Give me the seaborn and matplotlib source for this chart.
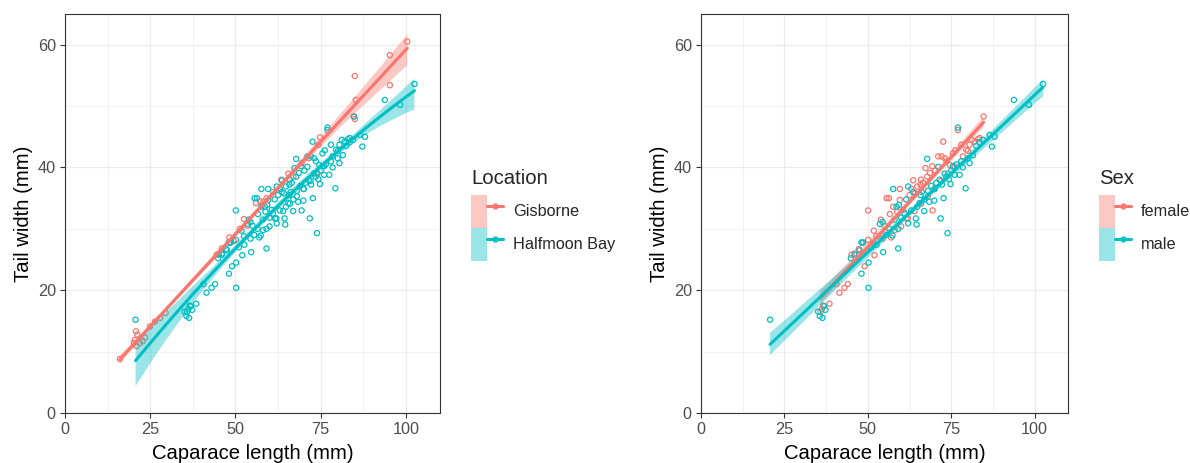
import numpy as np
import pandas as pd
import matplotlib
matplotlib.use("Agg")
import matplotlib.pyplot as plt
import seaborn as sns
from matplotlib.lines import Line2D
from matplotlib.patches import Patch
from matplotlib.legend_handler import HandlerTuple
from matplotlib.collections import PolyCollection

# ---------------- data ----------------
gis_length = [16.1, 20.2, 20.5, 20.8, 21.2, 21.0, 22.0, 22.8, 23.5, 24.9, 26.4, 27.9, 29.5,
              44.5, 46.0, 48.2, 49.5, 51.3, 52.5, 53.5, 56.0, 57.2, 58.2, 59.1, 61.0, 63.5,
              65.5, 67.0, 69.4, 71.5, 73.8, 74.3, 74.8, 84.8, 85.0, 85.3, 85.0, 95.3, 95.3, 100.4]
gis_width = [8.8, 11.4, 11.9, 13.3, 12.8, 10.9, 11.4, 11.7, 12.3, 14.1, 14.9, 15.5, 16.3,
             25.8, 26.8, 28.6, 28.0, 30.0, 31.6, 30.5, 34.2, 34.5, 34.4, 35.0, 36.0, 38.0,
             39.0, 38.5, 40.7, 41.5, 39.1, 43.7, 44.9, 48.3, 47.9, 51.0, 54.9, 58.3, 53.4, 60.5]

hb_male_length = [20.7, 35.1, 35.6, 36.4, 37.3, 36.9, 44.9, 46.0, 47.5, 48.1, 48.6, 48.1, 50.2,
                  50.2, 51.0, 52.6, 53.6, 54.4, 54.6, 55.5, 56.5, 57.6, 57.4, 58.0, 58.6, 59.3,
                  59.1, 59.1, 60.0, 61.0, 61.5, 62.1, 62.1, 63.0, 63.6, 64.4, 64.6, 64.8, 65.5,
                  65.8, 66.2, 66.9, 67.0, 67.8, 68.0, 68.4, 69.0, 69.9, 70.0, 70.5, 71.1, 71.5,
                  71.8, 72.2, 72.7, 73.0, 73.5, 73.9, 74.3, 74.8, 75.0, 75.5, 76.0, 76.5, 77.0,
                  77.5, 78.0, 78.5, 79.3, 80.0, 80.5, 81.5, 82.5, 83.5, 84.5, 86.5, 87.2, 88.0,
                  93.8, 98.3, 102.5]
hb_male_width = [15.2, 16.5, 15.8, 15.5, 16.8, 17.4, 25.2, 25.8, 26.5, 27.8, 27.8, 22.7, 24.5,
                 20.4, 27.0, 27.4, 30.8, 31.1, 26.2, 29.0, 30.0, 36.5, 28.9, 31.5, 33.6, 33.9,
                 26.8, 30.0, 31.8, 32.5, 34.8, 36.9, 30.9, 33.0, 36.0, 31.7, 30.7, 33.6, 34.2,
                 35.5, 36.0, 32.9, 34.8, 41.4, 36.2, 34.4, 37.0, 34.6, 36.5, 37.5, 40.1, 38.0,
                 31.7, 37.2, 35.0, 39.0, 38.5, 29.3, 38.1, 37.3, 39.5, 40.2, 38.8, 40.5, 46.5,
                 38.8, 41.0, 40.0, 36.6, 41.5, 40.7, 42.0, 43.5, 44.1, 44.5, 45.3, 43.4, 45.0,
                 51.0, 50.2, 53.6]

hb_female_length = [35.8, 36.6, 36.2, 38.5, 40.6, 41.5, 43.0, 44.0, 45.1, 46.1, 47.3, 48.4, 49.0,
                    50.1, 50.1, 51.8, 52.0, 52.5, 53.9, 54.4, 55.0, 55.6, 56.3, 56.6, 57.0, 57.6,
                    58.1, 58.8, 59.6, 59.6, 60.0, 60.6, 61.6, 62.0, 62.5, 63.0, 63.6, 64.0, 64.2,
                    64.8, 65.8, 65.9, 66.0, 66.5, 67.3, 67.8, 68.0, 68.6, 69.3, 69.4, 70.0, 70.2,
                    71.1, 72.0, 72.1, 72.6, 73.1, 73.6, 74.0, 74.6, 75.5, 76.0, 76.2, 77.0, 78.0,
                    78.5, 79.5, 80.0, 80.5, 81.2, 82.0, 83.0, 83.5, 84.7]
hb_female_width = [16.5, 17.5, 16.9, 17.8, 21.0, 19.6, 20.4, 21.0, 25.8, 26.0, 26.7, 27.7, 23.9,
                   28.2, 33.0, 29.7, 25.7, 28.8, 31.5, 28.4, 30.5, 35.0, 35.0, 32.4, 28.6, 33.6,
                   29.8, 32.8, 36.5, 34.7, 30.4, 33.1, 31.7, 31.7, 35.5, 36.5, 37.9, 32.9, 35.8,
                   36.9, 37.2, 38.0, 34.1, 37.5, 39.9, 38.5, 35.3, 39.1, 40.2, 33.0, 36.5, 39.5,
                   41.8, 37.8, 41.8, 44.2, 41.5, 41.0, 39.0, 40.4, 42.3, 40.2, 42.8, 46.1, 43.7,
                   41.8, 42.9, 42.7, 43.7, 44.5, 44.2, 44.6, 44.8, 48.3]

location_names = ["Gisborne", "Halfmoon Bay"]
sex_names = ["female", "male"]
x_label = "Caparace length (mm)"
y_label = "Tail width (mm)"
x_ticks = [0, 25, 50, 75, 100]
y_ticks = [0, 20, 40, 60]

# ---------------- table ----------------
df = pd.concat([
    pd.DataFrame({"length": gis_length, "width": gis_width,
                  "location": location_names[0], "sex": None}),
    pd.DataFrame({"length": hb_female_length, "width": hb_female_width,
                  "location": location_names[1], "sex": sex_names[0]}),
    pd.DataFrame({"length": hb_male_length, "width": hb_male_width,
                  "location": location_names[1], "sex": sex_names[1]}),
], ignore_index=True)

RED = "#F8766D"
TEAL = "#00BFC4"
colors = [RED, TEAL]

sns.set_style("white")
plt.rcParams["font.family"] = ["Liberation Sans", "DejaVu Sans"]

fig = plt.figure(figsize=(11.9, 4.63), dpi=100)
W, H = 1190, 463
ax1 = fig.add_axes([65 / W, 1 - 413 / H, (440 - 65) / W, (413 - 14) / H])
ax2 = fig.add_axes([701 / W, 1 - 413 / H, (1068 - 701) / W, (413 - 14) / H])

LW = 2.2
scat_kws = dict(facecolors="none", s=14, linewidths=0.9, alpha=1)


def panel(ax, data, col, levels, order):
    subs = [data[data[col] == lv] for lv in levels]
    for sub, c in zip(subs, colors):
        sns.regplot(data=sub, x="length", y="width", fit_reg=False, ax=ax,
                    color=c, marker="o", scatter_kws=scat_kws)
    for sub, c in zip(subs, colors):
        sns.regplot(data=sub, x="length", y="width", scatter=False, ax=ax,
                    color=c, order=order, ci=95, seed=3, line_kws=dict(lw=LW))
    for coll in ax.collections:
        if isinstance(coll, PolyCollection):
            coll.set_alpha(0.4)
            coll.set_edgecolor("none")


def style(ax):
    ax.set_xlim(0, 110)
    ax.set_ylim(0, 65)
    ax.set_xticks(x_ticks)
    ax.set_yticks(y_ticks)
    ax.set_xticks([12.5, 37.5, 62.5, 87.5], minor=True)
    ax.set_yticks([10, 30, 50], minor=True)
    ax.grid(True, which="major", color="#EBEBEB", lw=0.9)
    ax.grid(True, which="minor", color="#EBEBEB", lw=0.45)
    ax.set_axisbelow(True)
    for s in ax.spines.values():
        s.set_color("#333333")
        s.set_linewidth(0.8)
    ax.tick_params(which="major", length=3.7, width=0.8, color="#333333",
                   labelcolor="#4D4D4D", labelsize=11.7, pad=2.9,
                   bottom=True, left=True)
    ax.tick_params(which="minor", length=0)
    ax.set_xlabel(x_label, fontsize=14.6, color="black", labelpad=4.8)
    ax.set_ylabel(y_label, fontsize=14.6, color="black", labelpad=3.7)


def legend(ax, title, labels, x_px, y_px):
    handles = [(Patch(facecolor=c, alpha=0.4, edgecolor="none"),
                Line2D([], [], color=c, lw=LW, marker="o", markersize=3.5,
                       markerfacecolor="none", markeredgecolor=c))
               for c in colors]
    leg = ax.legend(handles, labels, title=title, loc="upper left",
                    bbox_to_anchor=(x_px / W, 1 - y_px / H),
                    bbox_transform=fig.transFigure, frameon=False,
                    fontsize=11.7, title_fontsize=14.6,
                    handler_map={tuple: HandlerTuple(ndivide=None, pad=0)},
                    handlelength=1.97, handleheight=2.75, labelspacing=0,
                    handletextpad=0.6, borderpad=0, borderaxespad=0,
                    alignment="left")
    leg._legend_box.sep = 5.0
    return leg


panel(ax1, df, "location", location_names, order=2)
panel(ax2, df[df["location"] == location_names[1]], "sex", sex_names, order=1)
style(ax1)
style(ax2)
legend(ax1, "Location", location_names, 471, 169)
legend(ax2, "Sex", sex_names, 1099, 169)

fig.savefig("out.png", dpi=100)
